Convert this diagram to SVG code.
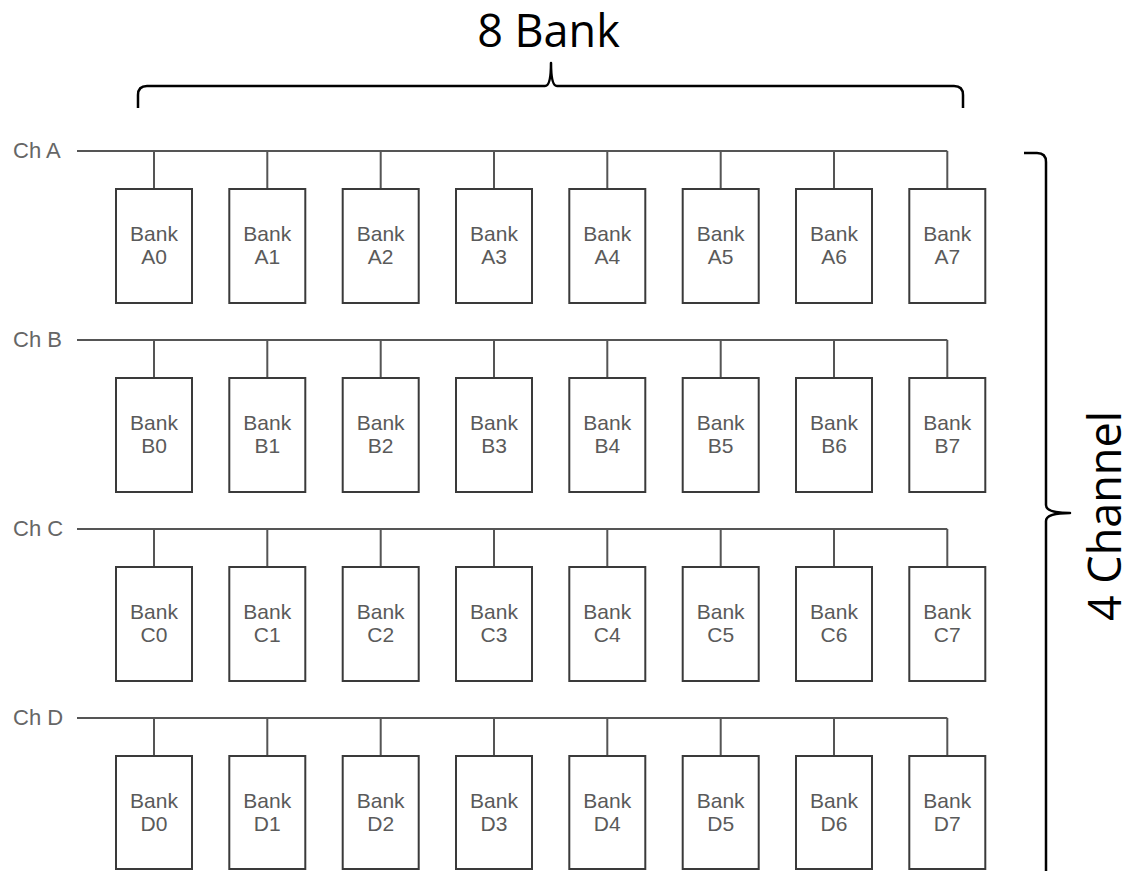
<svg xmlns="http://www.w3.org/2000/svg" width="1126" height="871" viewBox="0 0 1126 871">
<style>
.bg{fill:#fff}
.box{fill:#fff;stroke:#3a3a3a;stroke-width:2}
.bus{fill:none;stroke:#555;stroke-width:2}
.bt{font-family:"Liberation Sans",Arial,sans-serif;font-size:21px;fill:#5a5a5a;text-anchor:middle}
.ch{font-family:"Liberation Sans",Arial,sans-serif;font-size:22px;fill:#666}
.brace{fill:none;stroke:#000;stroke-width:2.5;stroke-linejoin:round}
.big{font-family:"Open Sans","Noto Sans",sans-serif;font-size:45px;fill:#000}
</style>
<rect class="bg" x="0" y="0" width="1126" height="871"/>
<g id="connectors">
<path class="bus" d="M77,151 H947.3 M154,151 V189 M267.3,151 V189 M380.7,151 V189 M494,151 V189 M607.3,151 V189 M720.7,151 V189 M834,151 V189 M947.3,151 V189"/>
<path class="bus" d="M77,340 H947.3 M154,340 V378 M267.3,340 V378 M380.7,340 V378 M494,340 V378 M607.3,340 V378 M720.7,340 V378 M834,340 V378 M947.3,340 V378"/>
<path class="bus" d="M77,529 H947.3 M154,529 V567 M267.3,529 V567 M380.7,529 V567 M494,529 V567 M607.3,529 V567 M720.7,529 V567 M834,529 V567 M947.3,529 V567"/>
<path class="bus" d="M77,718 H947.3 M154,718 V756 M267.3,718 V756 M380.7,718 V756 M494,718 V756 M607.3,718 V756 M720.7,718 V756 M834,718 V756 M947.3,718 V756"/>
</g>
<g id="labels">
<text class="ch" x="13" y="158">Ch A</text>
<text class="ch" x="13" y="347">Ch B</text>
<text class="ch" x="13" y="536">Ch C</text>
<text class="ch" x="13" y="725">Ch D</text>
</g>
<g id="bankA0"><rect class="box" x="116" y="189" width="76" height="114"/><text class="bt" x="154" y="241">Bank</text><text class="bt" x="154" y="264">A0</text></g>
<g id="bankA1"><rect class="box" x="229.3" y="189" width="76" height="114"/><text class="bt" x="267.3" y="241">Bank</text><text class="bt" x="267.3" y="264">A1</text></g>
<g id="bankA2"><rect class="box" x="342.7" y="189" width="76" height="114"/><text class="bt" x="380.7" y="241">Bank</text><text class="bt" x="380.7" y="264">A2</text></g>
<g id="bankA3"><rect class="box" x="456" y="189" width="76" height="114"/><text class="bt" x="494" y="241">Bank</text><text class="bt" x="494" y="264">A3</text></g>
<g id="bankA4"><rect class="box" x="569.3" y="189" width="76" height="114"/><text class="bt" x="607.3" y="241">Bank</text><text class="bt" x="607.3" y="264">A4</text></g>
<g id="bankA5"><rect class="box" x="682.7" y="189" width="76" height="114"/><text class="bt" x="720.7" y="241">Bank</text><text class="bt" x="720.7" y="264">A5</text></g>
<g id="bankA6"><rect class="box" x="796" y="189" width="76" height="114"/><text class="bt" x="834" y="241">Bank</text><text class="bt" x="834" y="264">A6</text></g>
<g id="bankA7"><rect class="box" x="909.3" y="189" width="76" height="114"/><text class="bt" x="947.3" y="241">Bank</text><text class="bt" x="947.3" y="264">A7</text></g>

<g id="bankB0"><rect class="box" x="116" y="378" width="76" height="114"/><text class="bt" x="154" y="430">Bank</text><text class="bt" x="154" y="453">B0</text></g>
<g id="bankB1"><rect class="box" x="229.3" y="378" width="76" height="114"/><text class="bt" x="267.3" y="430">Bank</text><text class="bt" x="267.3" y="453">B1</text></g>
<g id="bankB2"><rect class="box" x="342.7" y="378" width="76" height="114"/><text class="bt" x="380.7" y="430">Bank</text><text class="bt" x="380.7" y="453">B2</text></g>
<g id="bankB3"><rect class="box" x="456" y="378" width="76" height="114"/><text class="bt" x="494" y="430">Bank</text><text class="bt" x="494" y="453">B3</text></g>
<g id="bankB4"><rect class="box" x="569.3" y="378" width="76" height="114"/><text class="bt" x="607.3" y="430">Bank</text><text class="bt" x="607.3" y="453">B4</text></g>
<g id="bankB5"><rect class="box" x="682.7" y="378" width="76" height="114"/><text class="bt" x="720.7" y="430">Bank</text><text class="bt" x="720.7" y="453">B5</text></g>
<g id="bankB6"><rect class="box" x="796" y="378" width="76" height="114"/><text class="bt" x="834" y="430">Bank</text><text class="bt" x="834" y="453">B6</text></g>
<g id="bankB7"><rect class="box" x="909.3" y="378" width="76" height="114"/><text class="bt" x="947.3" y="430">Bank</text><text class="bt" x="947.3" y="453">B7</text></g>

<g id="bankC0"><rect class="box" x="116" y="567" width="76" height="114"/><text class="bt" x="154" y="619">Bank</text><text class="bt" x="154" y="642">C0</text></g>
<g id="bankC1"><rect class="box" x="229.3" y="567" width="76" height="114"/><text class="bt" x="267.3" y="619">Bank</text><text class="bt" x="267.3" y="642">C1</text></g>
<g id="bankC2"><rect class="box" x="342.7" y="567" width="76" height="114"/><text class="bt" x="380.7" y="619">Bank</text><text class="bt" x="380.7" y="642">C2</text></g>
<g id="bankC3"><rect class="box" x="456" y="567" width="76" height="114"/><text class="bt" x="494" y="619">Bank</text><text class="bt" x="494" y="642">C3</text></g>
<g id="bankC4"><rect class="box" x="569.3" y="567" width="76" height="114"/><text class="bt" x="607.3" y="619">Bank</text><text class="bt" x="607.3" y="642">C4</text></g>
<g id="bankC5"><rect class="box" x="682.7" y="567" width="76" height="114"/><text class="bt" x="720.7" y="619">Bank</text><text class="bt" x="720.7" y="642">C5</text></g>
<g id="bankC6"><rect class="box" x="796" y="567" width="76" height="114"/><text class="bt" x="834" y="619">Bank</text><text class="bt" x="834" y="642">C6</text></g>
<g id="bankC7"><rect class="box" x="909.3" y="567" width="76" height="114"/><text class="bt" x="947.3" y="619">Bank</text><text class="bt" x="947.3" y="642">C7</text></g>

<g id="bankD0"><rect class="box" x="116" y="756" width="76" height="113"/><text class="bt" x="154" y="808">Bank</text><text class="bt" x="154" y="831">D0</text></g>
<g id="bankD1"><rect class="box" x="229.3" y="756" width="76" height="113"/><text class="bt" x="267.3" y="808">Bank</text><text class="bt" x="267.3" y="831">D1</text></g>
<g id="bankD2"><rect class="box" x="342.7" y="756" width="76" height="113"/><text class="bt" x="380.7" y="808">Bank</text><text class="bt" x="380.7" y="831">D2</text></g>
<g id="bankD3"><rect class="box" x="456" y="756" width="76" height="113"/><text class="bt" x="494" y="808">Bank</text><text class="bt" x="494" y="831">D3</text></g>
<g id="bankD4"><rect class="box" x="569.3" y="756" width="76" height="113"/><text class="bt" x="607.3" y="808">Bank</text><text class="bt" x="607.3" y="831">D4</text></g>
<g id="bankD5"><rect class="box" x="682.7" y="756" width="76" height="113"/><text class="bt" x="720.7" y="808">Bank</text><text class="bt" x="720.7" y="831">D5</text></g>
<g id="bankD6"><rect class="box" x="796" y="756" width="76" height="113"/><text class="bt" x="834" y="808">Bank</text><text class="bt" x="834" y="831">D6</text></g>
<g id="bankD7"><rect class="box" x="909.3" y="756" width="76" height="113"/><text class="bt" x="947.3" y="808">Bank</text><text class="bt" x="947.3" y="831">D7</text></g>

<g id="brace-top">
<path class="brace" d="M138,108 L138,95 Q138,86 147,86 L545,86 Q551,86 551,63 Q551,86 557,86 L954,86 Q963,86 963,95 L963,108"/>
<text class="big" x="548.5" y="47" text-anchor="middle">8 Bank</text>
</g>
<g id="brace-right">
<path class="brace" d="M1024,153 L1037,153 Q1046,153 1046,162 L1046,505 Q1046,513 1070,513 Q1046,513 1046,521 L1046,871"/>
<text class="big" x="0" y="0" text-anchor="middle" transform="translate(1121,516) rotate(-90)">4 Channel</text>
</g>
</svg>
